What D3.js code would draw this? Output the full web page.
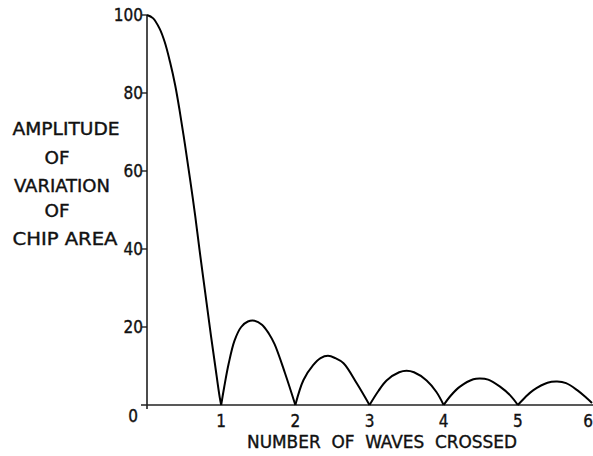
<!DOCTYPE html>
<html>
<head>
<meta charset="utf-8">
<script src="https://cdn.jsdelivr.net/npm/d3@7"></script>
<style>
	body { margin: 0; background: #fff; }
	svg { display: block; }
	text { font-family: 'DejaVu Sans Condensed', 'Liberation Sans', sans-serif; fill: #111; stroke: #111; stroke-width: 0.35px; }
</style>
</head>
<body>
<div id="chart"></div>
<script>
// values
var waveX = [0, 0.08, 0.17, 0.24, 0.31, 0.38, 0.44, 0.51, 0.58, 0.65, 0.71, 0.78, 0.85, 0.92, 0.98, 1,
	1.04, 1.1, 1.18, 1.27, 1.36, 1.45, 1.55, 1.64, 1.72, 1.86, 2,
	2.11, 2.24, 2.34, 2.44, 2.54, 2.65, 2.83, 3,
	3.12, 3.23, 3.4, 3.5, 3.6, 3.77, 3.9, 4,
	4.1, 4.22, 4.4, 4.49, 4.6, 4.76, 4.9, 5,
	5.1, 5.21, 5.4, 5.53, 5.65, 5.8, 5.92, 6];
var amplitude = [100, 99.2, 96.5, 93, 88, 82, 75.5, 67, 58, 48.5, 39.5, 29.5, 19.5, 10, 2, 0,
	4.5, 10.5, 16.5, 20, 21.4, 21.6, 20.6, 18.4, 15.6, 8.2, 0,
	6.4, 10.2, 12, 12.6, 12, 10.7, 5.5, 0,
	3.6, 6.3, 8.4, 8.8, 8.4, 6.3, 3.4, 0,
	2.5, 4.7, 6.6, 6.8, 6.5, 4.7, 2.4, 0,
	2, 3.8, 5.7, 6.0, 5.6, 3.8, 1.9, 0.5];
var xTicks = [0, 1, 2, 3, 4, 5, 6];
var yTicks = [0, 20, 40, 60, 80, 100];
var yTitle = ['AMPLITUDE', 'OF', 'VARIATION', 'OF', 'CHIP AREA'];
var xTitle = 'NUMBER  OF  WAVES  CROSSED';

(function () {
	'use strict';

	var width = 593, height = 456;

	var x = d3.scaleLinear().domain([0, 6]).range([147, 592]);
	var y = d3.scaleLinear().domain([0, 100]).range([405, 15]);

	var svg = d3.select('#chart').append('svg')
		.attr('width', width)
		.attr('height', height);

	// split the points into lobes at the zeros so the cusps stay sharp
	var lobes = [], cur = [];
	waveX.forEach(function (d, i) {
		cur.push({ x: d, y: amplitude[i] });
		if (amplitude[i] === 0 && cur.length > 1) {
			lobes.push(cur);
			cur = [{ x: d, y: 0 }];
		}
	});
	if (cur.length > 1) lobes.push(cur);

	// axes
	svg.append('line')
		.attr('x1', x(0)).attr('x2', x(0))
		.attr('y1', y(0) + 4).attr('y2', y(100))
		.attr('stroke', '#111').attr('stroke-width', 1.5);
	svg.append('line')
		.attr('x1', x(0) - 6).attr('x2', width)
		.attr('y1', y(0)).attr('y2', y(0))
		.attr('stroke', '#222').attr('stroke-width', 1.3);

	svg.selectAll('.ytick')
		.data(yTicks.filter(function (d) { return d > 0; }))
		.enter().append('line')
		.attr('class', 'ytick')
		.attr('x1', x(0) - 5).attr('x2', x(0))
		.attr('y1', function (d) { return y(d); })
		.attr('y2', function (d) { return y(d); })
		.attr('stroke', '#111').attr('stroke-width', 1.3);

	svg.selectAll('.ylab')
		.data(yTicks.filter(function (d) { return d > 0; }))
		.enter().append('text')
		.attr('class', 'ylab')
		.attr('x', x(0) - 4)
		.attr('y', function (d) { return y(d) + 6; })
		.attr('text-anchor', 'end')
		.style('font-size', '17px')
		.text(function (d) { return d; });

	svg.selectAll('.xlab')
		.data(xTicks)
		.enter().append('text')
		.attr('class', 'xlab')
		.attr('x', function (d) {
			if (d === 0) return x(d) - 14;
			return d === 6 ? width : x(d);
		})
		.attr('y', function (d) { return d === 0 ? y(0) + 17 : y(0) + 22; })
		.attr('text-anchor', function (d) { return d === 6 ? 'end' : 'middle'; })
		.style('font-size', '17px')
		.text(function (d) { return d; });

	svg.append('text')
		.attr('x', 247)
		.attr('y', 448)
		.attr('textLength', 270)
		.attr('lengthAdjust', 'spacingAndGlyphs')
		.style('font-size', '17px')
		.style('white-space', 'pre')
		.text(xTitle);

	var titleY = [135, 164, 192, 217, 245],
			titleX = [66, 57, 62, 57, 65],
			titleW = [107, 25, 96, 25, 105];
	svg.selectAll('.ytitle')
		.data(yTitle)
		.enter().append('text')
		.attr('class', 'ytitle')
		.attr('x', function (d, i) { return titleX[i] - titleW[i] / 2; })
		.attr('y', function (d, i) { return titleY[i]; })
		.attr('textLength', function (d, i) { return titleW[i]; })
		.attr('lengthAdjust', 'spacingAndGlyphs')
		.style('font-size', '17px')
		.text(function (d) { return d; });

	var line = d3.line()
		.x(function (d) { return x(d.x); })
		.y(function (d) { return y(d.y); })
		.curve(d3.curveCatmullRom.alpha(0.5));

	svg.selectAll('.lobe')
		.data(lobes)
		.enter().append('path')
		.attr('class', 'lobe')
		.attr('d', line)
		.attr('fill', 'none')
		.attr('stroke', '#000')
		.attr('stroke-width', 2);
})();
</script>
</body>
</html>
